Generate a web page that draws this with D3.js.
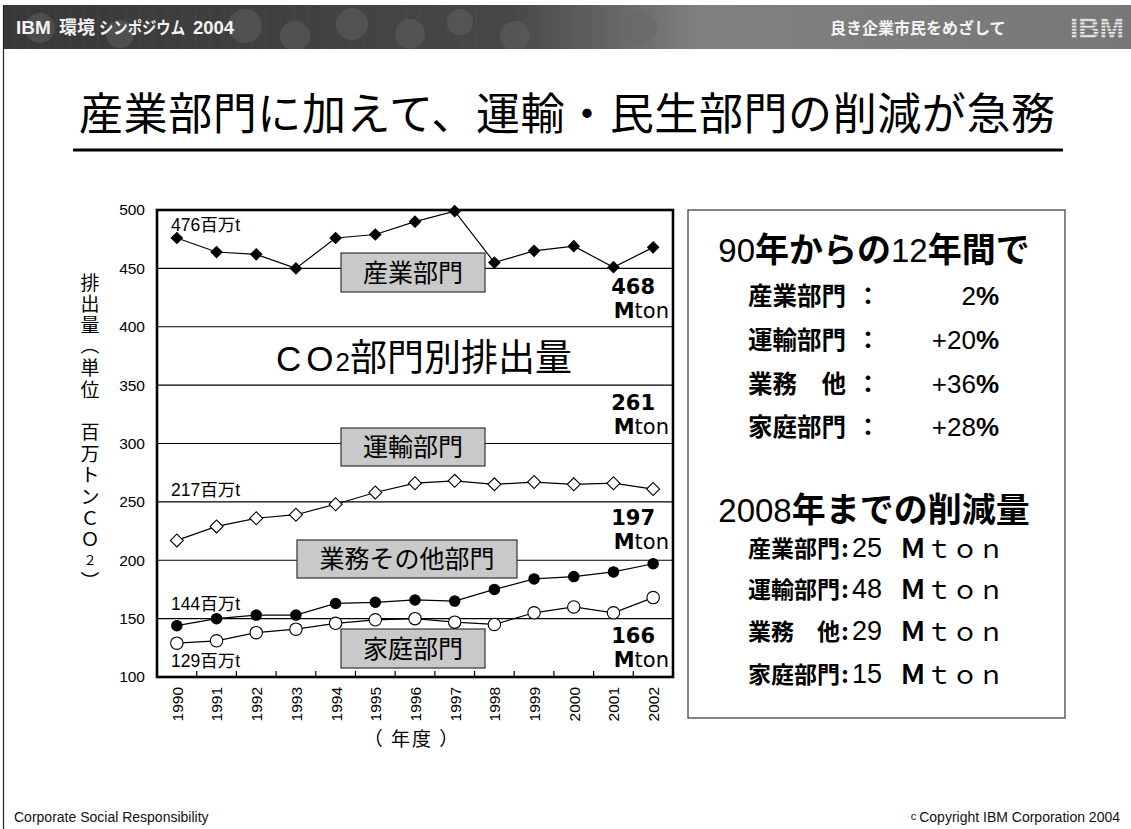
<!DOCTYPE html>
<html>
<head>
<meta charset="utf-8">
<script src="https://cdn.jsdelivr.net/npm/d3@7"></script>
<style>
  html, body { margin: 0; padding: 0; background: #fff; }
  svg { display: block; }
  text { font-family: "Liberation Sans", Arial, "Noto Sans CJK JP", sans-serif; }
  .cjk { font-family: "Noto Sans CJK JP", "Liberation Sans", sans-serif; }
  .dv { font-family: "DejaVu Sans", "Noto Sans CJK JP", sans-serif; }
</style>
</head>
<body>
<svg id="chart" width="1131" height="829"></svg>
<script>
// ---------------- data ----------------
const years = ["1990","1991","1992","1993","1994","1995","1996","1997","1998","1999","2000","2001","2002"];
const industry    = [476, 464, 462, 450, 476, 479, 490, 499, 455, 465, 469, 451, 468];
const transport   = [217, 229, 236, 239, 248, 258, 266, 268, 265, 267, 265, 266, 261];
const business    = [144, 150, 153, 153, 163, 164, 166, 165, 175, 184, 186, 190, 197];
const residential = [129, 131, 138, 141, 146, 149, 150, 147, 145, 155, 160, 155, 168];
const yTicks = [100, 150, 200, 250, 300, 350, 400, 450, 500];
const sectorNames = ["産業部門", "運輸部門", "業務その他部門", "家庭部門"];
const startLabels = ["476百万t", "217百万t", "144百万t", "129百万t"];
const endValues = ["468", "261", "197", "166"];
const changeLabels = ["産業部門", "運輸部門", "業務　他", "家庭部門"];
const changeValues = ["2", "+20", "+36", "+28"];
const cutValues = ["25", "48", "29", "15"];

const svg = d3.select("#chart");

// ---------------- slide frame / header ----------------
const HB0 = 5, HB1 = 49;
const defs = svg.append("defs");
const grad = defs.append("linearGradient").attr("id", "hdr").attr("x1", "0").attr("x2", "1");
grad.append("stop").attr("offset", "0").attr("stop-color", "#383838");
grad.append("stop").attr("offset", "0.45").attr("stop-color", "#474747");
grad.append("stop").attr("offset", "0.62").attr("stop-color", "#808080");
grad.append("stop").attr("offset", "1").attr("stop-color", "#777");
defs.append("clipPath").attr("id", "hclip").append("rect")
  .attr("x", 3).attr("y", HB0).attr("width", 1128).attr("height", HB1 - HB0);
const stripes = defs.append("pattern").attr("id", "stripes").attr("patternUnits", "userSpaceOnUse")
  .attr("width", 4).attr("height", 3.2);
stripes.append("rect").attr("width", 4).attr("height", 2).attr("fill", "#e8e8e8");

const hdr = svg.append("g").attr("clip-path", "url(#hclip)");
hdr.append("rect").attr("x", 3).attr("y", HB0).attr("width", 1128).attr("height", HB1 - HB0).attr("fill", "url(#hdr)");
// decorative bokeh + faint grid in header
const bokeh = [[40,28,15],[120,34,14],[245,26,17],[295,36,15],[352,24,16],[410,34,15],[460,22,13],[515,36,15],[640,28,17]];
hdr.append("g").selectAll("circle").data(bokeh).join("circle")
  .attr("cx", d => d[0]).attr("cy", d => d[1]).attr("r", d => d[2])
  .attr("fill", "#666").attr("opacity", 0.45);
hdr.append("g").selectAll("line").data(d3.range(0, 620, 14)).join("line")
  .attr("x1", d => d).attr("x2", d => d).attr("y1", HB0).attr("y2", HB1)
  .attr("stroke", "#5a5a5a").attr("stroke-width", 0.6).attr("opacity", 0.5);
svg.append("line").attr("x1", 3.5).attr("x2", 3.5).attr("y1", HB0).attr("y2", 829).attr("stroke", "#222").attr("stroke-width", 1.2);

svg.append("text").attr("x", 16).attr("y", 34).attr("fill", "#f2f2f2").attr("font-size", 19).attr("font-weight", "bold").text("IBM");
svg.append("text").attr("class", "cjk").attr("x", 59).attr("y", 34).attr("fill", "#f2f2f2").attr("font-size", 18).attr("font-weight", "bold").text("環境");
svg.append("text").attr("class", "cjk").attr("x", 99).attr("y", 34).attr("fill", "#f2f2f2").attr("font-size", 17).attr("font-weight", "bold")
  .attr("textLength", 86).attr("lengthAdjust", "spacingAndGlyphs").text("シンポジウム");
svg.append("text").attr("x", 193).attr("y", 34).attr("fill", "#f2f2f2").attr("font-size", 18.5).attr("font-weight", "bold").text("2004");
svg.append("text").attr("class", "cjk").attr("x", 830).attr("y", 34).attr("fill", "#f4f4f4").attr("font-size", 16).attr("font-weight", "bold").text("良き企業市民をめざして");
svg.append("text").attr("x", 1070).attr("y", 38).attr("fill", "url(#stripes)").attr("font-size", 29).attr("font-weight", "bold")
  .attr("font-family", "Liberation Serif, serif").attr("textLength", 54).attr("lengthAdjust", "spacingAndGlyphs").text("IBM");

// title
svg.append("text").attr("class", "cjk").attr("x", 79).attr("y", 130).attr("font-size", 44).attr("fill", "#000")
  .attr("textLength", 976).attr("lengthAdjust", "spacing")
  .text("産業部門に加えて、運輸・民生部門の削減が急務");
svg.append("line").attr("x1", 73).attr("x2", 1063).attr("y1", 150).attr("y2", 150).attr("stroke", "#000").attr("stroke-width", 3);

// footer
svg.append("text").attr("x", 14).attr("y", 822).attr("font-size", 14).attr("fill", "#111").text("Corporate Social Responsibility");
const cp = svg.append("text").attr("x", 1120).attr("y", 822).attr("font-size", 14).attr("fill", "#111").attr("text-anchor", "end");
cp.append("tspan").attr("font-size", 11).attr("dy", -2).text("c ");
cp.append("tspan").attr("dy", 2).text("Copyright IBM Corporation 2004");

// ---------------- chart ----------------
const L = 157, R = 673, T = 210, B = 677;
const x = d3.scalePoint().domain(years).range([L, R]).padding(0.5);
const step = x.step();
const y = d3.scaleLinear().domain([100, 500]).range([B, T]);

const plot = svg.append("g");

// gridlines
plot.append("g").selectAll("line").data(yTicks.filter(v => v > 100 && v < 500)).join("line")
  .attr("x1", L).attr("x2", R).attr("y1", d => y(d)).attr("y2", d => y(d))
  .attr("stroke", "#000").attr("stroke-width", 1.1);

// y axis labels
const yAxis = d3.axisLeft(y).tickValues(yTicks).tickSize(0).tickPadding(12);
const yg = svg.append("g").attr("transform", `translate(${L},0)`).call(yAxis);
yg.select(".domain").remove();
yg.selectAll("text").attr("font-size", 15.5).attr("fill", "#000").attr("font-family", "Liberation Sans, Arial, sans-serif");

// x axis labels (rotated)
const xAxis = d3.axisBottom(x).tickSize(0).tickPadding(0);
const xg = svg.append("g").attr("transform", `translate(0,${B})`).call(xAxis);
xg.select(".domain").remove();
xg.selectAll("text")
  .attr("font-size", 15.5).attr("fill", "#000").attr("font-family", "Liberation Sans, Arial, sans-serif")
  .attr("text-anchor", "end").attr("transform", "translate(0,10) rotate(-90)")
  .attr("dx", 0).attr("dy", "0.35em").attr("y", 0).attr("x", 0);

// inner ticks at band boundaries
plot.append("g").selectAll("line").data(years.slice(1)).join("line")
  .attr("x1", d => x(d) - step / 2).attr("x2", d => x(d) - step / 2)
  .attr("y1", B).attr("y2", B - 6).attr("stroke", "#000").attr("stroke-width", 1.2);

// sector label boxes
const boxes = [
  {name: sectorNames[0], x0: 341, x1: 485, y0: 253, y1: 292},
  {name: sectorNames[1], x0: 341, x1: 485, y0: 428, y1: 466},
  {name: sectorNames[2], x0: 297, x1: 517, y0: 540, y1: 578},
  {name: sectorNames[3], x0: 341, x1: 485, y0: 629, y1: 668}
];
const bg = plot.append("g").selectAll("g").data(boxes).join("g");
bg.append("rect").attr("x", d => d.x0).attr("y", d => d.y0).attr("width", d => d.x1 - d.x0).attr("height", d => d.y1 - d.y0)
  .attr("fill", "#c9c9c9").attr("stroke", "#333").attr("stroke-width", 1.2);
bg.append("text").attr("class", "cjk").attr("x", d => (d.x0 + d.x1) / 2).attr("y", d => (d.y0 + d.y1) / 2 + 9)
  .attr("text-anchor", "middle").attr("font-size", 25).attr("fill", "#000").text(d => d.name);

// big chart caption
const cap = plot.append("text").attr("x", 276).attr("y", 371).attr("fill", "#000");
cap.append("tspan").attr("font-size", 35).attr("letter-spacing", 5).text("CO");
cap.append("tspan").attr("font-size", 26).attr("dx", -3).text("2");
cap.append("tspan").attr("font-size", 37).attr("font-family", "Noto Sans CJK JP").text("部門別排出量");

// lines
const series = [
  {vals: industry,   shape: "diamond", fill: "#000", size: 62},
  {vals: transport,  shape: "diamond", fill: "#fff", size: 84},
  {vals: business,   shape: "circle",  fill: "#000", r: 5.2},
  {vals: residential,shape: "circle",  fill: "#fff", r: 6.2}
];
const line = d3.line().x((d, i) => x(years[i])).y(d => y(d));
series.forEach(s => {
  plot.append("path").attr("d", line(s.vals)).attr("fill", "none").attr("stroke", "#000").attr("stroke-width", 1.2);
  const g = plot.append("g");
  if (s.shape === "diamond") {
    const sym = d3.symbol().type(d3.symbolSquare).size(s.size);
    g.selectAll("path").data(s.vals).join("path")
      .attr("d", sym)
      .attr("transform", (d, i) => `translate(${x(years[i])},${y(d)}) rotate(45)`)
      .attr("fill", s.fill).attr("stroke", "#000").attr("stroke-width", 1.1);
  } else {
    g.selectAll("circle").data(s.vals).join("circle")
      .attr("cx", (d, i) => x(years[i])).attr("cy", d => y(d)).attr("r", s.r)
      .attr("fill", s.fill).attr("stroke", "#000").attr("stroke-width", 1.1);
  }
});

// start labels
const startY = [231, 496, 610, 667];
plot.append("g").selectAll("text").data(startLabels).join("text")
  .attr("x", 171).attr("y", (d, i) => startY[i]).attr("font-size", 17.5).attr("fill", "#000").text(d => d);

// end labels
const endY = [294, 410, 525, 643];
const eg = plot.append("g").selectAll("g").data(endValues).join("g");
eg.append("text").attr("class", "dv").attr("x", 655).attr("y", (d, i) => endY[i]).attr("text-anchor", "end")
  .attr("font-size", 21).attr("font-weight", "bold").attr("fill", "#000").text(d => d);
const mt = eg.append("text").attr("class", "dv").attr("x", 669).attr("y", (d, i) => endY[i] + 24).attr("text-anchor", "end")
  .attr("font-size", 21).attr("fill", "#000");
mt.append("tspan").attr("font-weight", "bold").text("M");
mt.append("tspan").text("ton");

// frame
plot.append("rect").attr("x", L).attr("y", T).attr("width", R - L).attr("height", B - T)
  .attr("fill", "none").attr("stroke", "#000").attr("stroke-width", 2.6);

// y axis title (vertical)
const yTitle = ["排","出","量","（","単","位","　","百","万","ト","ン","Ｃ","Ｏ","２","）"];
svg.append("g").selectAll("text").data(yTitle).join("text")
  .attr("class", "cjk")
  .attr("text-anchor", "middle").attr("dominant-baseline", "central")
  .attr("font-size", d => d === "２" ? 13 : 19).attr("fill", "#000")
  .attr("transform", (d, i) => `translate(90,${281 + i * 21.4})` + ((d === "（" || d === "）") ? " rotate(90)" : ""))
  .text(d => d);

// x axis title
svg.append("text").attr("class", "cjk").attr("x", 412).attr("y", 746).attr("text-anchor", "middle")
  .attr("font-size", 19).attr("letter-spacing", 2).attr("fill", "#000").text("（ 年度 ）");

// ---------------- right info box ----------------
svg.append("rect").attr("x", 688).attr("y", 210).attr("width", 377).attr("height", 508)
  .attr("fill", "#fff").attr("stroke", "#444").attr("stroke-width", 1.3);

function heading(yb, parts) {
  const t = svg.append("text").attr("x", 874).attr("y", yb).attr("text-anchor", "middle").attr("fill", "#000");
  parts.forEach(p => {
    const ts = t.append("tspan").text(p[0]);
    if (p[1]) ts.attr("font-weight", "bold").attr("font-family", "Noto Sans CJK JP").attr("font-size", 34);
    else ts.attr("font-size", 33);
  });
}
heading(262, [["90", false], ["年からの", true], ["12", false], ["年間で", true]]);
heading(522, [["2008", false], ["年までの削減量", true]]);

const rowY1 = [305, 349, 393, 436];
changeLabels.forEach((lab, i) => {
  svg.append("text").attr("class", "cjk").attr("x", 748).attr("y", rowY1[i]).attr("font-size", 24.5)
    .attr("font-weight", "bold").attr("fill", "#000").text(lab);
  svg.append("text").attr("class", "cjk").attr("x", 868).attr("y", rowY1[i]).attr("text-anchor", "middle").attr("font-size", 24.5)
    .attr("font-weight", "bold").attr("fill", "#000").text("：");
  const v = svg.append("text").attr("x", 999).attr("y", rowY1[i]).attr("text-anchor", "end").attr("font-size", 26).attr("fill", "#000");
  v.append("tspan").text(changeValues[i]);
  v.append("tspan").attr("font-weight", "bold").text("%");
});

const rowY2 = [557, 598, 640, 683];
changeLabels.forEach((lab, i) => {
  svg.append("text").attr("class", "cjk").attr("x", 748).attr("y", rowY2[i]).attr("font-size", 23)
    .attr("font-weight", "bold").attr("fill", "#000").text(lab);
  svg.append("text").attr("class", "cjk").attr("x", 845).attr("y", rowY2[i]).attr("text-anchor", "middle").attr("font-size", 23)
    .attr("font-weight", "bold").attr("fill", "#000").text(":");
  svg.append("text").attr("x", 852).attr("y", rowY2[i]).attr("font-size", 27).attr("fill", "#000").text(cutValues[i]);
  const v = svg.append("text").attr("class", "cjk").attr("x", 1004).attr("y", rowY2[i] + 1).attr("text-anchor", "end")
    .attr("font-size", 26).attr("fill", "#000");
  v.append("tspan").attr("font-weight", "bold").text("Ｍ");
  v.append("tspan").text("ｔｏｎ");
});
</script>
</body>
</html>
